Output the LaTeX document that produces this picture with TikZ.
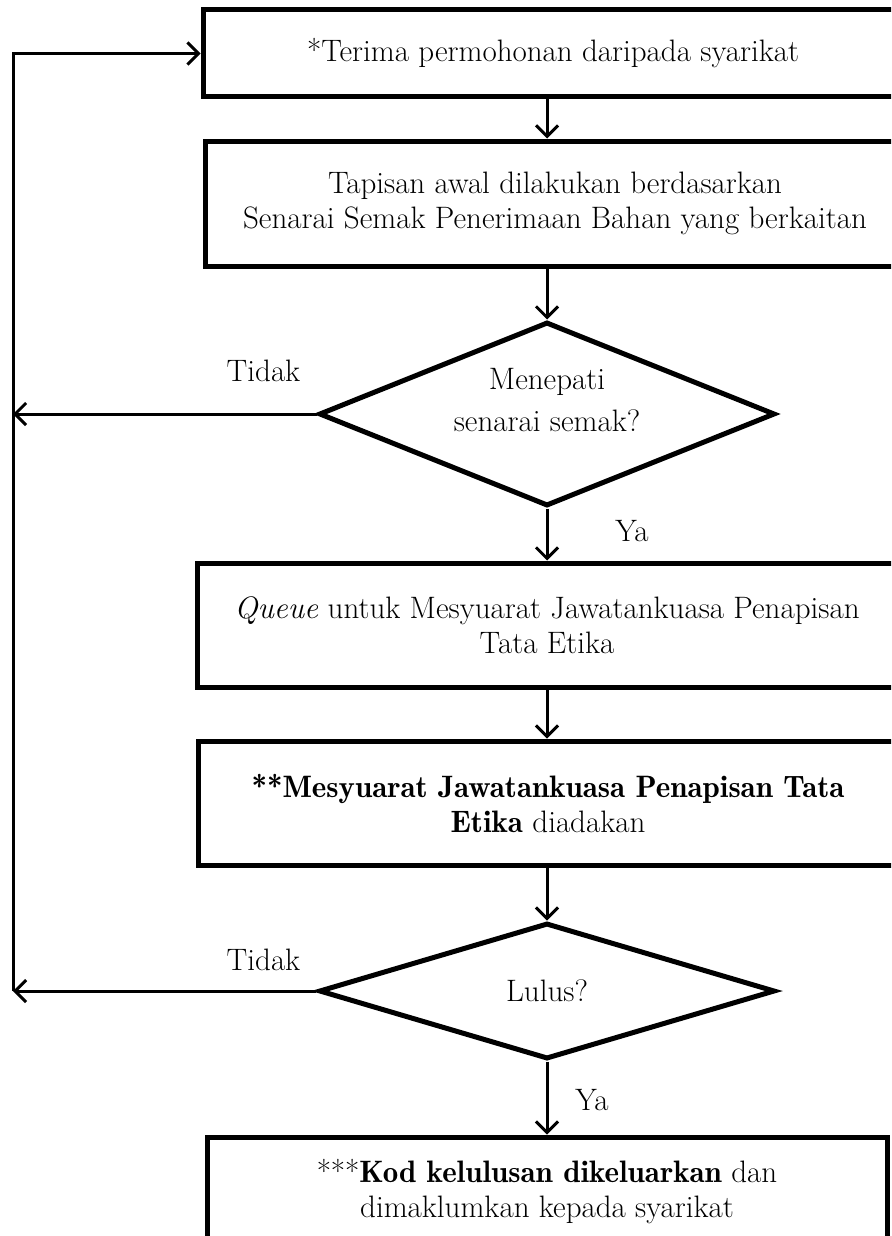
\documentclass[tikz,border=0pt]{standalone}
\usetikzlibrary{shapes.geometric,arrows.meta}
\newcommand\tebal[1]{{\fontseries{b}\selectfont #1}}
\begin{document}
\begin{tikzpicture}[x=1pt,y=-1pt,
  every node/.style={font=\fontsize{31}{35}\selectfont},
  box/.style={draw,line width=5pt,minimum width=700pt,align=center,inner sep=0pt},
  ask/.style={draw,diamond,line width=5pt,align=center,inner sep=0pt,minimum width=456pt},
  arr/.style={-{Straight Barb[length=11pt,width=22pt]},line width=3pt}]
\clip (0,0) rectangle (891,1236);
\node[box,minimum height=87pt] (recv) at (553,53.5) {*Terima permohonan daripada syarikat};
\node[box,minimum height=125pt] (screen) at (555,203.5) {Tapisan awal dilakukan berdasarkan\\Senarai Semak Penerimaan Bahan yang berkaitan};
\node[ask,minimum height=184pt,aspect=2.5] (check) at (547,414) {Menepati\\[7pt]senarai semak?\\[-6pt]};
\node[box,minimum height=124pt] (queue) at (547,625) {\textit{Queue} untuk Mesyuarat Jawatankuasa Penapisan\\Tata Etika};
\node[box,minimum height=124pt] (meet) at (548,803) {\tebal{**Mesyuarat Jawatankuasa Penapisan Tata}\\\tebal{Etika} diadakan};
\node[ask,minimum height=136pt,aspect=3.3] (pass) at (547,991) {Lulus?};
\node[box,minimum width=680pt,minimum height=110pt] (code) at (547,1192) {***\tebal{Kod kelulusan dikeluarkan} dan\\dimaklumkan kepada syarikat};
\coordinate (back) at (13,991);
\node (no1) at ([xshift=-53pt,yshift=43pt]check.west) {Tidak};
\node (yes1) at ([xshift=85pt,yshift=-23pt]check.south) {Ya};
\node (no2) at ([xshift=-53pt,yshift=31pt]pass.west) {Tidak};
\node (yes2) at ([xshift=45pt,yshift=-39pt]pass.south) {Ya};
\draw[arr] (recv.south -| check) -- (screen.north -| check);
\draw[arr] (screen.south -| check) -- (check);
\draw[arr] (check) -- (queue.north -| check);
\draw[arr] (queue.south -| check) -- (meet.north -| check);
\draw[arr] (meet.south -| check) -- (pass);
\draw[arr] (pass) -- (code);
\draw[arr] (check) -- (check -| back);
\draw[arr] (pass) -- (back);
\draw[arr] (back) |- (recv.west);
\end{tikzpicture}
\end{document}
